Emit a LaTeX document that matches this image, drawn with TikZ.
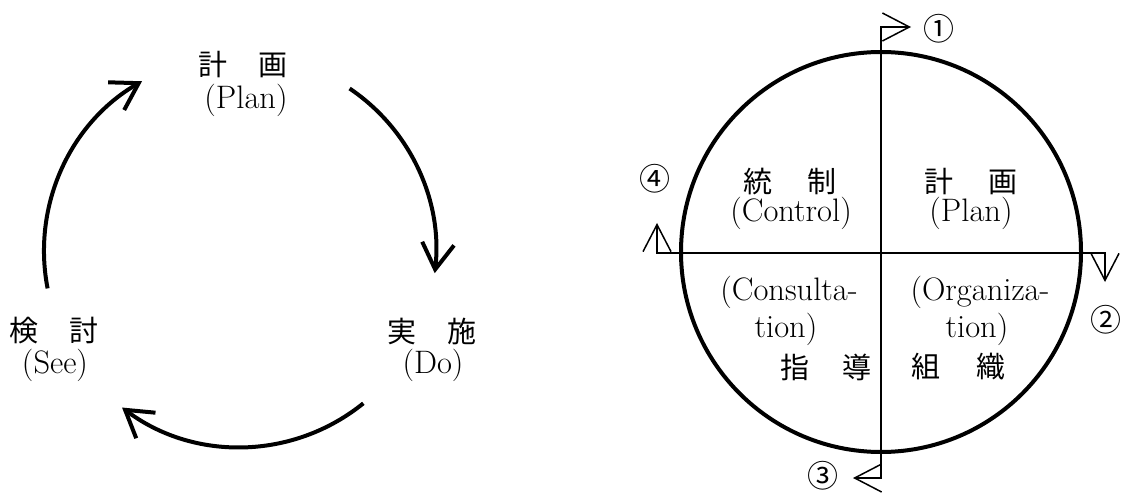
\documentclass[tikz,border=0pt]{standalone}
\usepackage{fontspec}
\newfontfamily\jpfont{Noto Sans CJK JP}
\usetikzlibrary{arrows.meta}
\begin{document}
\begin{tikzpicture}[x=1pt,y=1pt,
  jp/.style={font=\jpfont\fontsize{29}{32}\selectfont, inner sep=0pt},
  en/.style={font=\fontsize{32.5}{36}\selectfont, inner sep=0pt},
  num/.style={font=\jpfont\fontsize{31}{34}\selectfont, inner sep=0pt},
  cyc/.style={line width=4pt, -{Straight Barb[length=26pt,width=32pt]}},
  axis/.style={line width=1.5pt, {Straight Barb[length=27pt,width=28pt]}-{Straight Barb[length=27pt,width=28pt]}},
]
\useasboundingbox (0,0) rectangle (1123,493);

% ---------- left: cycle ----------
\coordinate (lc) at (240,242);
\node[jp] (plan1) at (243,428) {計\hspace{31pt}画};
\node[en] (plan1e) at (246,393) {(Plan)};
\node[jp] (do1) at (432,162) {実\hspace{31pt}施};
\node[en] (do1e) at (433,128) {(Do)};
\node[jp] (see1) at (54,162) {検\hspace{31pt}討};
\node[en] (see1e) at (55,128) {(See)};

\coordinate (a1) at ([shift={(191:196)}]lc);
\coordinate (a2) at ([shift={(56:196)}]lc);
\coordinate (a3) at ([shift={(-51:196)}]lc);
\draw[cyc] (a1) arc[start angle=191,end angle=120,radius=196];
\draw[cyc] (a2) arc[start angle=56,end angle=-6.5,radius=196];
\draw[cyc] (a3) arc[start angle=-51,end angle=-127,radius=196];

% ---------- right: quadrant circle ----------
\coordinate (rc) at (881,241);
\draw[line width=4pt] (rc) circle[radius=200];

\coordinate (t1) at (911,466);
\coordinate (v1) at (881,466);
\coordinate (v2) at (881,15);
\coordinate (t3) at (853,15);
\draw[axis] (t1) -- (v1) -- (v2) -- (t3);

\coordinate (t4) at (657,270);
\coordinate (h1) at (657,240);
\coordinate (h2) at (1105,240);
\coordinate (t2) at (1105,211);
\draw[axis] (t4) -- (h1) -- (h2) -- (t2);

\node[num] (n1) at (939,464) {①};
\node[num] (n2) at (1106,173) {②};
\node[num] (n3) at (823,17) {③};
\node[num] (n4) at (655,314) {④};

\node[jp] (ctl) at (790,311) {統\hspace{35pt}制};
\node[en] (ctle) at (791,280) {(Control)};
\node[jp] (plan2) at (971,311) {計\hspace{35pt}画};
\node[en] (plan2e) at (971,280) {(Plan)};
\node[en] (cons1) at (789,201) {(Consulta-};
\node[en] (cons2) at (786,164) {tion)};
\node[jp] (cons3) at (826,126) {指\hspace{33pt}導};
\node[en] (org1) at (980,201) {(Organiza-};
\node[en] (org2) at (977,164) {tion)};
\node[jp] (org3) at (958,126) {組\hspace{36pt}織};
\end{tikzpicture}
\end{document}
